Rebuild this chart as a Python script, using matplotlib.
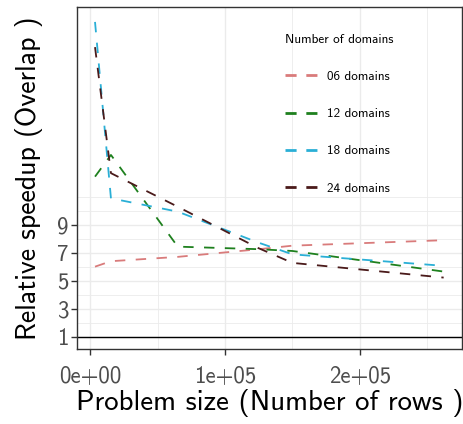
import matplotlib
matplotlib.use("Agg")
import matplotlib.pyplot as plt
import numpy as np

# problem sizes (rows) and relative speedups
sizes = [3700, 15500, 65000, 124400, 150000, 262000]
d06 = [6.02, 6.41, 6.72, 7.26, 7.52, 7.91]
d12 = [12.45, 14.0, 7.45, 7.27, 7.14, 5.67]
d18 = [23.5, 10.9, 9.95, 7.75, 6.9, 6.08]
d24 = [21.7, 12.7, 10.3, 7.36, 6.29, 5.24]
labels = ["06 domains", "12 domains", "18 domains", "24 domains"]
colors = ["#D97B7B", "#1E801E", "#2AAFD6", "#4A1A1A"]

xticks = [0, 1e5, 2e5]
xticklabels = ["0e+00", "1e+05", "2e+05"]
yticks = [1, 3, 5, 7, 9]

plt.rcParams['font.family'] = ['cmss10', 'DejaVu Sans']
plt.rcParams['axes.unicode_minus'] = False
plt.rcParams['lines.scale_dashes'] = False

fig = plt.figure(figsize=(4.64, 4.24), dpi=100)
ax = fig.add_axes([0.166, 0.177, 0.8297, 0.8066])

# grid like ggplot (major + minor)
for gx in [0, 0.5e5, 1e5, 1.5e5, 2e5, 2.5e5]:
    ax.axvline(gx, color="#EBEBEB", lw=1.0 if gx % 1e5 == 0 else 0.6, zorder=0)
for gy in range(1, 12):
    ax.axhline(gy, color="#EBEBEB", lw=1.0 if gy in yticks else 0.6, zorder=0)

ax.axhline(1, color="black", lw=1.0, zorder=1)

for ys, lab, c in zip([d06, d12, d18, d24], labels, colors):
    ax.plot(sizes, ys, color=c, lw=1.3, dashes=(7.5, 7.5), label=lab, zorder=2)

ax.set_xlim(-9630, 275600)
ax.set_ylim(0.143, 24.57)
ax.set_xticks(xticks)
ax.set_xticklabels(xticklabels)
ax.set_yticks(yticks)
ax.tick_params(axis="both", labelsize=16.5, labelcolor="#4D4D4D", color="#333333",
               length=4, width=1, pad=2)
ax.tick_params(axis="x", pad=8)
for s in ax.spines.values():
    s.set_color("#333333")
    s.set_linewidth(1.0)

ax.set_xlabel("Problem size (Number of rows )", fontsize=20.8, labelpad=1)
ax.set_ylabel("Relative speedup (Overlap )", fontsize=20, labelpad=10)

leg = ax.legend(title="Number of domains", frameon=False, loc="upper left",
                bbox_to_anchor=(0.51, 0.957), fontsize=9.5, title_fontsize=9.5,
                handlelength=2.4, labelspacing=1.9, handletextpad=0.75,
                alignment="left")
for h in leg.get_lines():
    h.set_linewidth(2.0)
    h.set_dashes((8, 7))

fig.savefig("out.png", dpi=100)
